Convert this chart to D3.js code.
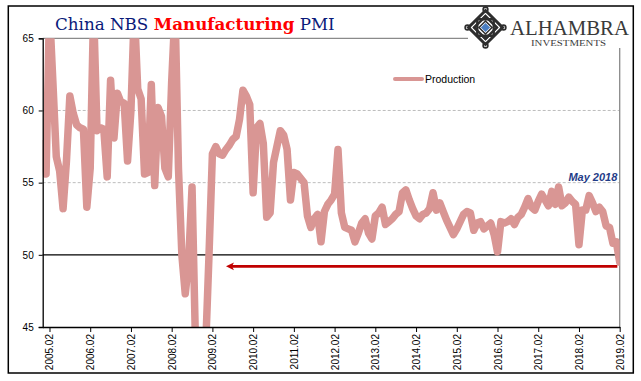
<!DOCTYPE html>
<html><head><meta charset="utf-8">
<script src="https://cdn.jsdelivr.net/npm/d3@7"></script>
<style>body{margin:0;background:#fff} svg{display:block}</style>
</head><body>
<svg id="c" width="641" height="381"></svg>
<script>
// ---- data (NBS production sub-index) ----
const v2004 = [57.7];
const v2005 = [55.6, 67.0, 62.0, 56.8, 55.8, 53.2, 56.5, 61.0, 59.8, 59.0, 58.8, 58.7];
const v2006 = [53.3, 56.0, 67.0, 58.6, 58.8, 58.7, 55.4, 62.1, 58.1, 61.2, 60.6, 60.5];
const v2007 = [56.5, 60.0, 67.0, 61.5, 60.8, 55.6, 55.7, 61.8, 54.8, 60.2, 59.6, 56.0];
const v2008 = [55.4, 62.0, 67.0, 56.0, 50.0, 47.3, 49.5, 54.7, 44.0, 38.0, 40.5, 43.5];
const v2009 = [50.0, 57.0, 57.5, 57.0, 56.9, 57.3, 57.6, 58.0, 58.2, 59.4, 61.4, 61.0];
const v2010 = [60.4, 54.3, 58.8, 59.1, 57.7, 52.6, 52.9, 56.4, 57.5, 58.6, 58.3, 57.3];
const v2011 = [53.8, 55.7, 55.6, 55.3, 55.0, 52.7, 51.9, 52.5, 52.8, 50.9, 53.0, 53.5];
const v2012 = [53.8, 54.2, 57.3, 52.9, 51.9, 51.8, 51.7, 50.9, 51.5, 52.2, 52.5, 51.5];
const v2013 = [51.1, 52.7, 52.9, 53.3, 52.1, 52.3, 52.5, 52.8, 53.0, 54.3, 54.5, 53.8];
const v2014 = [53.2, 52.7, 52.5, 52.8, 52.9, 53.2, 54.3, 53.1, 53.6, 53.0, 52.4, 51.9];
const v2015 = [51.4, 51.8, 52.3, 52.8, 53.0, 52.9, 51.7, 52.2, 52.3, 51.8, 52.0, 52.2];
const v2016 = [51.4, 50.2, 52.3, 52.2, 52.3, 52.5, 52.1, 52.6, 52.8, 53.3, 53.9, 53.3];
const v2017 = [53.1, 53.7, 54.2, 53.8, 53.4, 54.4, 53.5, 54.7, 53.4, 53.6, 54.0, 53.7];
const v2018 = [53.5, 50.7, 53.1, 53.1, 54.1, 53.6, 53.0, 53.3, 53.0, 52.0, 51.9, 50.8];
const v2019 = [50.9, 49.5];
const production = [].concat(v2004, v2005, v2006, v2007, v2008, v2009, v2010, v2011,
  v2012, v2013, v2014, v2015, v2016, v2017, v2018, v2019);

const tickLabels = ["2005.02","2006.02","2007.02","2008.02","2009.02","2010.02","2011.02",
  "2012.02","2013.02","2014.02","2015.02","2016.02","2017.02","2018.02","2019.02"];
const yTicks = [45, 50, 55, 60, 65];
const yGrid = [55, 60];
const seriesName = "Production";
const noteText = "May 2018";
const noteAt = [169.3, 55.1];        // [month index, value]
const arrowLevel = 49.2;
const arrowSpan = [169.3, 54.0];      // from, to (month index)

// month labels, starting 2004.12
const months = production.map((d, i) => {
  const m0 = 11 + i; const yr = 2004 + Math.floor(m0 / 12); const mo = m0 % 12 + 1;
  return yr + "." + String(mo).padStart(2, "0");
});

// ---- layout ----
const L = 42.7, R = 619.7, T = 38.3, B = 327;
const svg = d3.select("#c");
const lineColor = "#D99694";

const x = d3.scaleLinear().domain([0, months.length - 1]).range([L, R]);
const y = d3.scaleLinear().domain([45, 65]).range([B, T]);

// outer frame
svg.append("rect").attr("x", 8.3).attr("y", 6).attr("width", 625).attr("height", 367)
  .attr("fill", "#fff").attr("stroke", "#000").attr("stroke-width", 1.5);

// gridlines
svg.append("g").selectAll("line").data(yGrid).join("line")
  .attr("x1", L).attr("x2", R).attr("y1", d => y(d)).attr("y2", d => y(d))
  .attr("stroke", "#bdbdbd").attr("stroke-width", 1).attr("stroke-dasharray", "3,2");
// 50 line
svg.append("line").attr("x1", L).attr("x2", R).attr("y1", y(50)).attr("y2", y(50))
  .attr("stroke", "#000").attr("stroke-width", 1.2);
// top border (gray) and right border
svg.append("line").attr("x1", L).attr("x2", 468).attr("y1", y(65)).attr("y2", y(65))
  .attr("stroke", "#8a8a8a").attr("stroke-width", 1.3);
svg.append("line").attr("x1", R).attr("x2", R).attr("y1", 48).attr("y2", B)
  .attr("stroke", "#8a8a8a").attr("stroke-width", 1.3);

// clip
svg.append("clipPath").attr("id", "clip").append("rect")
  .attr("x", L).attr("y", T).attr("width", R - L).attr("height", B - T);

// series line
const line = d3.line().x((d, i) => x(i)).y(d => y(d));
svg.append("path").datum(production).attr("clip-path", "url(#clip)")
  .attr("d", line).attr("fill", "none").attr("stroke", lineColor)
  .attr("stroke-width", 7.5).attr("stroke-linejoin", "round").attr("stroke-linecap", "round");

// axes
const yAxis = svg.append("g").attr("transform", `translate(${L},0)`)
  .call(d3.axisLeft(y).tickValues(yTicks).tickSize(4).tickPadding(5));
yAxis.select(".domain").attr("stroke", "#000").attr("stroke-width", 1.3);
yAxis.selectAll("text").attr("font-family", "Liberation Sans, Arial, sans-serif")
  .attr("font-size", 10).attr("fill", "#000");

const tickIdx = tickLabels.map(t => months.indexOf(t));
const xAxis = svg.append("g").attr("transform", `translate(0,${B})`)
  .call(d3.axisBottom(x).tickValues(tickIdx).tickFormat(i => months[i]).tickSize(5).tickSizeOuter(0));
xAxis.select(".domain").attr("stroke", "#000").attr("stroke-width", 1.3);
xAxis.selectAll("text").attr("font-family", "Liberation Sans, Arial, sans-serif")
  .attr("font-size", 10).attr("fill", "#000")
  .attr("transform", "rotate(-90)").attr("text-anchor", "end")
  .attr("x", -7).attr("y", 0).attr("dy", "0.35em");

// arrow
const ay = y(arrowLevel), ax0 = x(arrowSpan[0]), ax1 = x(arrowSpan[1]);
svg.append("line").attr("x1", ax0).attr("x2", ax1 + 5).attr("y1", ay).attr("y2", ay)
  .attr("stroke", "#C00000").attr("stroke-width", 2.6);
svg.append("path").attr("d", `M${ax1},${ay} L${ax1 + 8},${ay - 3.8} L${ax1 + 6},${ay} L${ax1 + 8},${ay + 3.8} Z`)
  .attr("fill", "#C00000");

// note
svg.append("text").attr("x", x(noteAt[0])).attr("y", y(noteAt[1]))
  .attr("text-anchor", "end").attr("font-family", "Liberation Sans, Arial, sans-serif")
  .attr("font-size", 11).attr("font-style", "italic").attr("font-weight", "bold")
  .attr("fill", "#1F3C88").text(noteText);

// legend
svg.append("line").attr("x1", 395).attr("x2", 422).attr("y1", 79).attr("y2", 79)
  .attr("stroke", lineColor).attr("stroke-width", 4).attr("stroke-linecap", "round");
svg.append("text").attr("x", 425).attr("y", 82.8).attr("font-family", "Liberation Sans, Arial, sans-serif")
  .attr("font-size", 10.5).attr("fill", "#000").text(seriesName);

// title
const title = svg.append("text").attr("x", 55).attr("y", 29.5)
  .attr("font-family", "DejaVu Serif, Georgia, serif").attr("font-size", 17);
title.append("tspan").attr("fill", "#0A1A7A").text("China NBS ");
title.append("tspan").attr("fill", "#FF0000").attr("font-weight", "bold").text("Manufacturing");
title.append("tspan").attr("fill", "#0A1A7A").text(" PMI");
const tw = title.node().getComputedTextLength();
title.attr("font-size", 17 * 280 / tw);

// logo
const cx = 485.5, cy = 27.5, Rr = 17;
const lg = svg.append("g");
const dia = r => `M${cx},${cy - r} L${cx + r},${cy} L${cx},${cy + r} L${cx - r},${cy} Z`;
const sq = r => `M${cx - r},${cy - r} L${cx + r},${cy - r} L${cx + r},${cy + r} L${cx - r},${cy + r} Z`;
lg.append("path").attr("d", dia(Rr)).attr("fill", "#fff").attr("stroke", "#2e2e2e").attr("stroke-width", 3);
lg.append("path").attr("d", dia(Rr - 5)).attr("fill", "none").attr("stroke", "#2e2e2e").attr("stroke-width", 1.6);
lg.append("path").attr("d", sq(8.2)).attr("fill", "#fff").attr("stroke", "#2e2e2e").attr("stroke-width", 2.4);
lg.append("path").attr("d", dia(11.2)).attr("fill", "none").attr("stroke", "#2e2e2e").attr("stroke-width", 2.4);
lg.append("path").attr("d", dia(6.5)).attr("fill", "#fff").attr("stroke", "#2e2e2e").attr("stroke-width", 1.5);
lg.append("path").attr("d", dia(4.6)).attr("fill", "#4A7EC2");
[[-1,0],[1,0],[0,-1],[0,1]].forEach(([dx,dy]) => {
  lg.append("circle").attr("cx", cx + dx * (Rr + 1)).attr("cy", cy + dy * (Rr + 1)).attr("r", 2.4)
    .attr("fill", "none").attr("stroke", "#2e2e2e").attr("stroke-width", 1.6);
});
svg.append("text").attr("x", 510).attr("y", 35).attr("font-family", "Liberation Serif, serif")
  .attr("font-size", 20.5).attr("fill", "#3a3a3a").attr("textLength", 119).attr("lengthAdjust", "spacingAndGlyphs")
  .text("ALHAMBRA");
svg.append("text").attr("x", 531).attr("y", 45.5).attr("font-family", "Liberation Serif, serif")
  .attr("font-size", 7.8).attr("fill", "#3a3a3a").attr("textLength", 75).attr("lengthAdjust", "spacingAndGlyphs")
  .text("INVESTMENTS");
</script>
</body></html>
